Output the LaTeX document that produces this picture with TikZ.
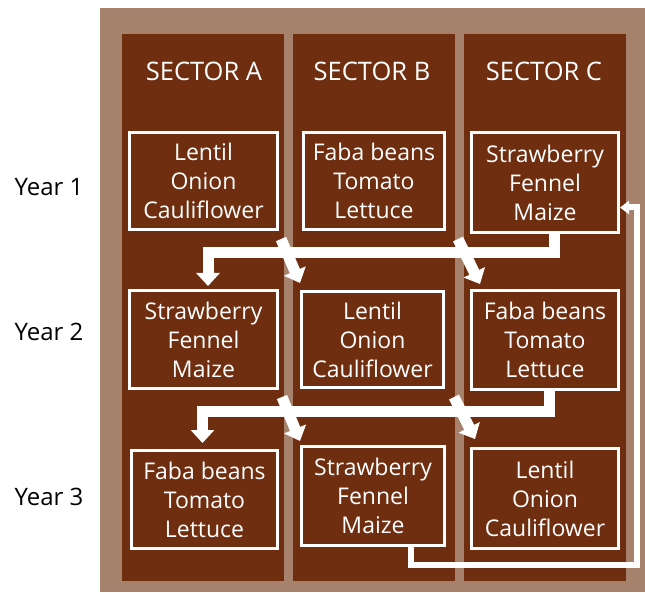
\documentclass[tikz,border=0pt]{standalone}
\usepackage{fontspec}
\setmainfont{Open Sans}
\usetikzlibrary{arrows.meta,calc}
\definecolor{soil}{RGB}{112,46,16}
\definecolor{soillight}{RGB}{166,129,108}
\tikzset{
  column/.style={fill=soil,draw=none},
  cropbox/.style={draw=white,line width=3pt,fill=soil,text=white,align=center,
    font=\fontsize{23}{29}\selectfont,inner sep=0pt},
  header/.style={text=white,font=\fontsize{25.5}{30}\selectfont},
  yearlabel/.style={text=black,anchor=west,font=\fontsize{24}{28}\selectfont},
  bigarrow/.style={draw=white,line width=11pt,line join=miter,
    -{Triangle[width=23pt,length=13pt]}},
  thinarrow/.style={draw=white,line width=6pt,line join=miter,
    -{Triangle[width=13pt,length=9pt]}}
}
\begin{document}
\begin{tikzpicture}[x=1pt,y=-1pt]
\useasboundingbox (0,0) rectangle (645,593);
\fill[soillight] (100,8) rectangle (645,592);
\fill[column] (122,34) rectangle (284,581);
\fill[column] (293,34) rectangle (455,581);
\fill[column] (464,34) rectangle (626,581);

\node[header] (hA) at (204,71) {SECTOR A};
\node[header] (hB) at (372,71) {SECTOR B};
\node[header] (hC) at (544,71) {SECTOR C};

\node[yearlabel] (y1) at (11,187) {Year 1};
\node[yearlabel] (y2) at (11,332) {Year 2};
\node[yearlabel] (y3) at (11,497) {Year 3};

\node[cropbox,minimum width=148pt,minimum height=97pt] (A1) at (203.5,181) {Lentil\\Onion\\Cauliflower};
\node[cropbox,minimum width=141pt,minimum height=97pt] (B1) at (374,181) {Faba beans\\Tomato\\Lettuce};
\node[cropbox,minimum width=147pt,minimum height=100pt] (C1) at (545,182.5) {Strawberry\\Fennel\\Maize};
\node[cropbox,minimum width=148pt,minimum height=98pt] (A2) at (203.5,339.5) {Strawberry\\Fennel\\Maize};
\node[cropbox,minimum width=142pt,minimum height=96pt] (B2) at (372.5,339.5) {Lentil\\Onion\\Cauliflower};
\node[cropbox,minimum width=147pt,minimum height=99pt] (C2) at (545,340) {Faba beans\\Tomato\\Lettuce};
\node[cropbox,minimum width=146pt,minimum height=98pt] (A3) at (204.5,499.5) {Faba beans\\Tomato\\Lettuce};
\node[cropbox,minimum width=143pt,minimum height=99pt] (B3) at (373,496) {Strawberry\\Fennel\\Maize};
\node[cropbox,minimum width=147pt,minimum height=100pt] (C3) at (545,498.5) {Lentil\\Onion\\Cauliflower};

% rotation year 1 -> year 2
\draw[bigarrow,shorten >=3pt] ([xshift=9pt]C1.south) -- ++(0,19) -| ([xshift=4.5pt]A2.north);
\coordinate (d1s) at (281,239);
\coordinate (d1e) at (300,283);
\coordinate (d2s) at (458,239);
\coordinate (d2e) at (480,284);
\draw[bigarrow] (d1s) -- (d1e);
\draw[bigarrow] (d2s) -- (d2e);

% rotation year 2 -> year 3
\draw[bigarrow,shorten >=6pt] ([xshift=4pt]C2.south) -- ++(0,20) -| ([xshift=-2pt]A3.north);
\coordinate (d3s) at (282,397);
\coordinate (d3e) at (300,441);
\coordinate (d4s) at (454,397);
\coordinate (d4e) at (475,439);
\draw[bigarrow] (d3s) -- (d3e);
\draw[bigarrow] (d4s) -- (d4e);

% year 3 -> year 1
\coordinate (rc) at (637,565);
\draw[thinarrow] ([xshift=38pt]B3.south) |- (rc) |- ([yshift=-25pt]C1.east);
\end{tikzpicture}
\end{document}
